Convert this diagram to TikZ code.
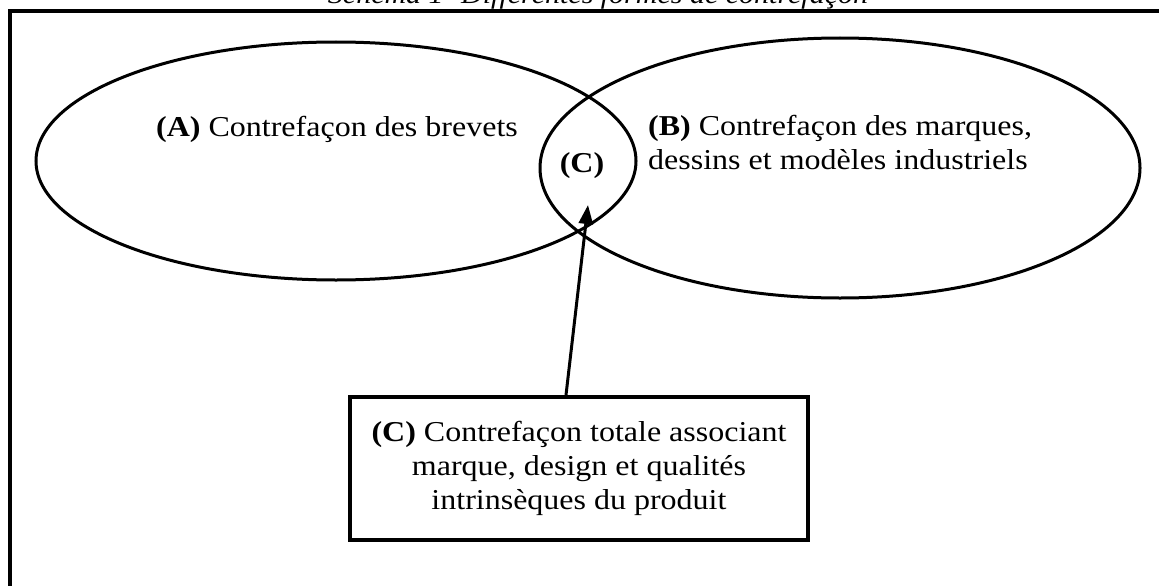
\documentclass[tikz,border=0pt]{standalone}
\usepackage{fontspec}
\usepackage{graphicx}
\setmainfont{Liberation Serif}
\usetikzlibrary{shapes.geometric,arrows.meta}
\tikzset{
  frameline/.style={line width=3.5pt},
  venn/.style={ellipse, draw, line width=3pt, inner sep=0pt},
  txt/.style={inner sep=0pt, font=\fontsize{32}{38}\selectfont},
  titletxt/.style={inner sep=0pt, font=\fontsize{30}{34}\selectfont\itshape},
  boxstyle/.style={draw, line width=4pt, inner sep=0pt, minimum width=458pt, minimum height=143pt, font=\fontsize{32}{38}\selectfont},
  arrowstyle/.style={line width=3pt, -{Triangle[length=19pt,width=14pt]}}
}
\newcommand{\vsq}[1]{\scalebox{1}[0.9]{#1}}
\begin{document}
\begin{tikzpicture}[x=1pt,y=-1pt]
\useasboundingbox (0,0) rectangle (1159,586);
\clip (0,0) rectangle (1159,586);
\fill[white] (0,0) rectangle (1159,586);
% title (cut off at top)
\node[titletxt, anchor=base] (title) at (598,4) {\vsq{Schéma 1- Différentes formes de contrefaçon}};
% frame
\draw[frameline] (10,11) rectangle (1180,610);
% ellipses
\node[venn, minimum width=600pt, minimum height=238pt] (A) at (336,161) {};
\node[venn, minimum width=600pt, minimum height=260pt] (B) at (840,168) {};
% texts
\node[txt, anchor=base] (Atxt) at (337,136) {\vsq{\textbf{(A)} Contrefaçon des brevets}};
\node[txt, anchor=base west] (Btxt) at (648,135) {\vsq{\begin{tabular}[t]{@{}l@{}}\textbf{(B)} Contrefaçon des marques,\\dessins et modèles industriels\end{tabular}}};
\node[txt, anchor=base] (Ctxt) at (582,172) {\vsq{\textbf{(C)}}};
% box
\node[boxstyle] (box) at (579,468.5) {\vsq{\begin{tabular}{@{}c@{}}\textbf{(C)} Contrefaçon totale associant\\marque, design et qualités\\intrinsèques du produit\end{tabular}}};
% arrow
\coordinate (tip) at (588,205);
\draw[arrowstyle] ([xshift=-13pt]box.north) -- (tip);
\end{tikzpicture}
\end{document}
